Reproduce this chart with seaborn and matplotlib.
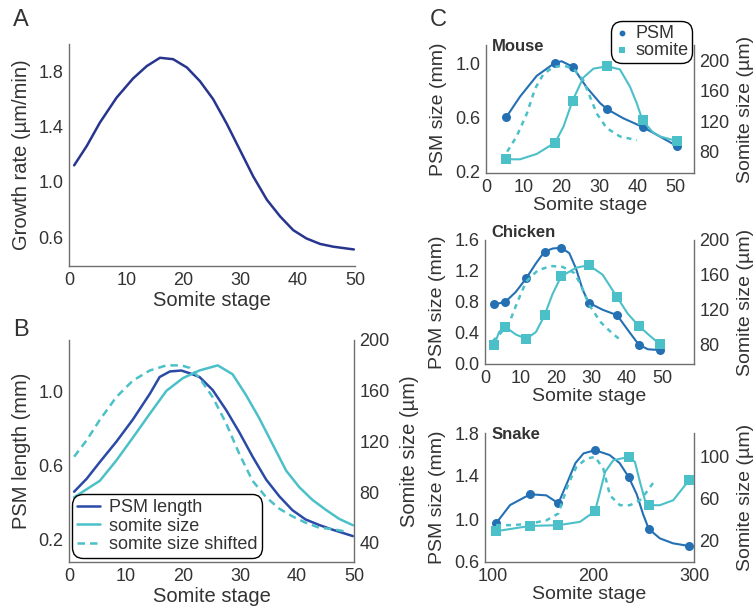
import matplotlib

matplotlib.use("Agg")

import matplotlib.pyplot as plt
import seaborn as sns

# ---- panel A: growth rate ----
a_stage = [0.9, 3.1, 5.4, 8.3, 11.2, 13.6, 15.9, 18.2, 20.6, 22.9, 25.2, 27.6,
           29.9, 32.2, 34.6, 36.9, 39.2, 41.5, 43.9, 46.2, 49.8]
a_rate = [1.12, 1.26, 1.43, 1.61, 1.75, 1.84, 1.90, 1.89, 1.83, 1.73, 1.60, 1.42,
          1.23, 1.04, 0.87, 0.75, 0.65, 0.59, 0.55, 0.53, 0.51]

# ---- panel B: PSM length / somite size ----
b_psm_stage = [0.9, 3.1, 5.4, 8.3, 11.2, 14.2, 15.9, 17.7, 19.7, 21.2, 22.9, 25.2,
               27.6, 29.9, 32.2, 34.6, 36.9, 39.2, 41.5, 43.9, 46.2, 49.8]
b_psm_len = [0.46, 0.53, 0.62, 0.73, 0.85, 0.99, 1.08, 1.11, 1.115, 1.10, 1.08, 1.01,
             0.90, 0.78, 0.65, 0.525, 0.435, 0.36, 0.31, 0.28, 0.255, 0.22]
b_som_stage = [0.9, 5.4, 8.3, 11.2, 14.2, 17.1, 20.0, 22.9, 26.1, 28.7, 31.0, 33.3,
               35.7, 38.1, 40.4, 42.7, 45.1, 47.4, 49.8]
b_som_size = [76, 89, 105, 123, 142, 160, 170, 176, 180, 173, 157, 139,
              118, 97, 84, 74, 66, 59, 54]
b_shift_stage = [0.9, 3.1, 5.4, 8.3, 11.2, 14.2, 17.1, 19.7, 21.2, 22.9, 25.2, 27.6,
                 29.9, 32.2, 34.6, 36.9, 39.2, 41.5, 43.9, 46.2, 48.5]
b_shift_size = [108, 121, 137, 155, 168, 176, 180, 180, 178, 170, 155, 134,
                110, 89, 76, 67, 61, 56, 52, 51, 49]

# ---- panel C: mouse ----
mouse_stage = [5.3, 18.3, 22.9, 32.1, 41.4, 50.4]
mouse_psm = [0.60, 1.005, 0.975, 0.66, 0.53, 0.39]
mouse_somite = [70, 92, 147, 192, 121, 94]
mouse_psm_line_x = [5.3, 9.0, 13.4, 18.3, 20.0, 22.9, 26.6, 30.2, 32.1, 36.3, 41.4, 46.0, 50.4]
mouse_psm_line = [0.60, 0.754, 0.907, 1.005, 1.015, 0.975, 0.823, 0.705, 0.66, 0.594, 0.53, 0.459, 0.39]
mouse_som_line_x = [5.3, 9.0, 13.4, 18.3, 20.5, 22.9, 25.7, 28.4, 32.1, 35.4, 38.1, 39.9, 41.4, 44.0, 46.0, 50.4]
mouse_som_line = [70, 70, 77, 92, 113, 147, 177, 189, 192, 188, 165, 143, 121, 106, 100, 94]
mouse_shift_x = [5.6, 8.1, 10.8, 13.0, 15.2, 17.8, 20.5, 23.1, 25.7, 27.5, 29.3, 31.9, 35.4, 39.9]
mouse_shift = [80, 100, 130, 163, 182, 191, 193, 189, 174, 152, 130, 111, 100, 95]

# ---- panel C: chicken ----
chick_stage = [2.6, 5.7, 11.7, 16.8, 21.5, 29.3, 37.3, 43.4, 49.3]
chick_psm = [0.77, 0.80, 1.11, 1.45, 1.50, 0.79, 0.63, 0.25, 0.18]
chick_somite = [79, 100, 86, 113, 158, 171, 134, 101, 80]
chick_psm_line_x = [2.6, 5.7, 8.7, 11.7, 14.4, 16.8, 19.1, 21.5, 23.8, 25.7, 27.6, 29.3,
                    33.2, 37.3, 40.3, 43.4, 46.0, 49.3]
chick_psm_line = [0.77, 0.80, 0.93, 1.11, 1.30, 1.45, 1.49, 1.50, 1.43, 1.23, 0.955, 0.79,
                  0.70, 0.63, 0.44, 0.25, 0.19, 0.18]
chick_som_line_x = [2.6, 4.0, 5.7, 8.7, 11.7, 14.4, 16.8, 19.1, 21.5, 25.7, 29.3, 33.2,
                    37.3, 40.3, 43.4, 46.4, 49.3]
chick_som_line = [79, 94, 100, 91, 86, 94, 113, 138, 158, 168, 171, 160,
                  134, 115, 101, 90, 80]
chick_shift_x = [2.1, 4.5, 6.9, 9.2, 11.6, 14.9, 18.6, 21.9, 25.2, 27.1, 29.4, 32.7, 36.0, 38.8]
chick_shift = [83, 93, 105, 129, 152, 165, 170, 169, 162, 148, 125, 105, 92, 83]

# ---- panel C: snake ----
snake_stage = [103, 137, 165, 201.5, 235, 255, 295]
snake_psm = [0.96, 1.23, 1.146, 1.64, 1.39, 0.907, 0.749]
snake_somite = [28.6, 33.7, 34.4, 47.8, 100, 53.6, 77.6]
snake_psm_line_x = [103, 117, 137, 153, 165, 173, 182, 190, 201.5, 216, 226, 235,
                    243, 249.5, 255, 266, 279, 295]
snake_psm_line = [0.96, 1.13, 1.23, 1.22, 1.146, 1.32, 1.52, 1.61, 1.64, 1.595, 1.52, 1.39,
                  1.23, 1.04, 0.907, 0.82, 0.774, 0.749]
snake_som_line_x = [103, 137, 165, 186.5, 201.5, 206.5, 211.5, 219.7, 235, 241.2, 246.2,
                    251.2, 255, 266, 279.4, 295]
snake_som_line = [28.6, 33.7, 34.4, 37.6, 47.8, 66.4, 85.6, 96.8, 100, 95.2, 76,
                  58.4, 53.6, 53.6, 58.4, 77.6]
snake_shift_x = [103, 120, 137, 153, 165, 175, 183, 193, 201.5, 209.7, 216.4, 226.3,
                 236.3, 246.2, 252.9, 261.2]
snake_shift = [34.4, 34.4, 36, 39, 45.6, 74.4, 90.4, 98.4, 100, 88.8, 63, 53.6,
               53.6, 58.4, 66.4, 77.6]

NAVY = "#27358f"
BLUE_B = "#2b4aa6"
BLUE_C = "#2470b3"
CYAN = "#4cc0c8"
TEXT = "#333333"
SPINE = "#6e6e6e"

sns.set_style("white")
plt.rcParams["font.family"] = ["Liberation Sans", "DejaVu Sans"]
plt.rcParams["text.color"] = TEXT
plt.rcParams["axes.labelcolor"] = TEXT

W, H = 755, 607
fig = plt.figure(figsize=(W / 100, H / 100), dpi=100)


def add_axes(left, right, top, bottom):
    return fig.add_axes([left / W, 1 - bottom / H, (right - left) / W, (bottom - top) / H])


def style(ax, shown, size=13):
    for side, sp in ax.spines.items():
        sp.set_visible(side in shown)
        sp.set_color(SPINE)
        sp.set_linewidth(1.0)
    ax.tick_params(length=0, pad=4, labelsize=size, colors=TEXT)


def round_frame(leg, radius):
    frame = leg.get_frame()
    frame.set_linewidth(1.0)
    frame.set_boxstyle(f"round,pad=0,rounding_size={radius}")


# ---- A ----
ax = add_axes(69, 355, 44, 266)
sns.lineplot(x=a_stage, y=a_rate, ax=ax, color=NAVY, lw=1.8, sort=False, estimator=None)
ax.set_xlim(0, 50)
ax.set_ylim(0.39, 2.0)
ax.set_xticks([0, 10, 20, 30, 40, 50])
ax.set_yticks([0.6, 1.0, 1.4, 1.8])
ax.set_xlabel("Somite stage", fontsize=14.5, labelpad=2)
ax.set_ylabel("Growth rate (µm/min)", fontsize=14.5, labelpad=5)
style(ax, ["left", "bottom"])
fig.text(13 / W, 1 - 20 / H, "A", fontsize=17, va="center")

# ---- B ----
ax = add_axes(69, 354, 340, 562)
ax2 = ax.twinx()
sns.lineplot(x=b_psm_stage, y=b_psm_len, ax=ax, color=BLUE_B, lw=1.8, sort=False,
             estimator=None, label="PSM length", legend=False)
sns.lineplot(x=b_som_stage, y=b_som_size, ax=ax2, color=CYAN, lw=1.8, sort=False,
             estimator=None, label="somite size", legend=False)
sns.lineplot(x=b_shift_stage, y=b_shift_size, ax=ax2, color=CYAN, lw=1.8, sort=False,
             estimator=None, label="somite size shifted", legend=False, dashes=False,
             linestyle=(0, (3, 2)))
ax.set_xlim(0, 50)
ax.set_ylim(0.08, 1.28)
ax2.set_ylim(25, 200)
ax.set_xticks([0, 10, 20, 30, 40, 50])
ax.set_yticks([0.2, 0.6, 1.0])
ax2.set_yticks([40, 80, 120, 160, 200])
ax.set_xlabel("Somite stage", fontsize=14.5, labelpad=2)
ax.set_ylabel("PSM length (mm)", fontsize=14.5, labelpad=5)
ax2.set_ylabel("Somite size (µm)", fontsize=14.5, labelpad=7)
style(ax, ["left", "bottom"])
style(ax2, ["right"])
h1, l1 = ax.get_legend_handles_labels()
h2, l2 = ax2.get_legend_handles_labels()
leg = ax2.legend(h1 + h2, l1 + l2, loc="lower left", bbox_to_anchor=(0.012, 0.018),
                 fontsize=13, frameon=True, fancybox=True, framealpha=1,
                 edgecolor="black", borderpad=0.25, labelspacing=0.1,
                 handlelength=1.3, handletextpad=0.5, borderaxespad=0)
round_frame(leg, 0.6)
fig.text(13 / W, 1 - 330 / H, "B", fontsize=17, va="center")


# ---- C ----
def species_panel(box, title, title_y, stage, psm, somite, psm_x, psm_line,
                  som_x, som_line, shift_x, shift, xlim, ylim, ylim2,
                  xticks, yticks, yticks2, show_legend=False):
    ax = add_axes(*box)
    ax2 = ax.twinx()
    sns.lineplot(x=psm_x, y=psm_line, ax=ax, color=BLUE_C, lw=1.5, sort=False,
                 estimator=None, legend=False)
    sns.scatterplot(x=stage, y=psm, ax=ax, color=BLUE_C, marker="o", s=42,
                    linewidth=0, label="PSM", legend=False, zorder=3)
    sns.lineplot(x=shift_x, y=shift, ax=ax2, color=CYAN, lw=1.8, sort=False,
                 estimator=None, legend=False, linestyle=(0, (2, 2)))
    sns.lineplot(x=som_x, y=som_line, ax=ax2, color=CYAN, lw=1.5, sort=False,
                 estimator=None, legend=False)
    sns.scatterplot(x=stage, y=somite, ax=ax2, color=CYAN, marker="s", s=42,
                    linewidth=0, label="somite", legend=False, zorder=3)
    ax.set_xlim(*xlim)
    ax.set_ylim(*ylim)
    ax2.set_ylim(*ylim2)
    ax.set_xticks(xticks)
    ax.set_yticks(yticks)
    ax.set_yticklabels([f"{v:.1f}" for v in yticks])
    ax2.set_yticks(yticks2)
    ax.set_xlabel("Somite stage", fontsize=14, labelpad=1)
    ax.set_ylabel("PSM size (mm)", fontsize=14, labelpad=6)
    ax2.set_ylabel("Somite size (µm)", fontsize=14, labelpad=5)
    style(ax, ["left", "bottom"])
    style(ax2, ["right"])
    ax.text(0.03, title_y, title, transform=ax.transAxes, fontsize=12,
            fontweight="bold", va="center", ha="left", color=TEXT)
    if show_legend:
        h1, l1 = ax.get_legend_handles_labels()
        h2, l2 = ax2.get_legend_handles_labels()
        leg = ax2.legend(h1 + h2, l1 + l2, loc="upper right",
                         bbox_to_anchor=(0.99, 1.185), fontsize=13, frameon=True,
                         fancybox=True, framealpha=1, edgecolor="black",
                         borderpad=0.2, labelspacing=0.0, handlelength=0.8,
                         handletextpad=0.35, borderaxespad=0, markerscale=0.65)
        round_frame(leg, 0.6)
    return ax


species_panel((486, 694, 45, 173), "Mouse", 0.99, mouse_stage, mouse_psm, mouse_somite,
              mouse_psm_line_x, mouse_psm_line, mouse_som_line_x, mouse_som_line,
              mouse_shift_x, mouse_shift, (0, 55), (0.19, 1.135), (52, 220),
              [0, 10, 20, 30, 40, 50], [0.2, 0.6, 1.0], [80, 120, 160, 200],
              show_legend=True)
species_panel((485, 694, 240, 364), "Chicken", 1.06, chick_stage, chick_psm, chick_somite,
              chick_psm_line_x, chick_psm_line, chick_som_line_x, chick_som_line,
              chick_shift_x, chick_shift, (0, 59), (0.0, 1.6), (57, 200),
              [0, 10, 20, 30, 40, 50], [0.0, 0.4, 0.8, 1.2, 1.6], [80, 120, 160, 200])
species_panel((485, 694, 433, 562), "Snake", 0.99, snake_stage, snake_psm, snake_somite,
              snake_psm_line_x, snake_psm_line, snake_som_line_x, snake_som_line,
              snake_shift_x, snake_shift, (92, 300), (0.6, 1.8), (-1, 123),
              [100, 200, 300], [0.6, 1.0, 1.4, 1.8], [20, 60, 100])
fig.text(430 / W, 1 - 20 / H, "C", fontsize=17, va="center")

fig.savefig("out.png", dpi=100)
